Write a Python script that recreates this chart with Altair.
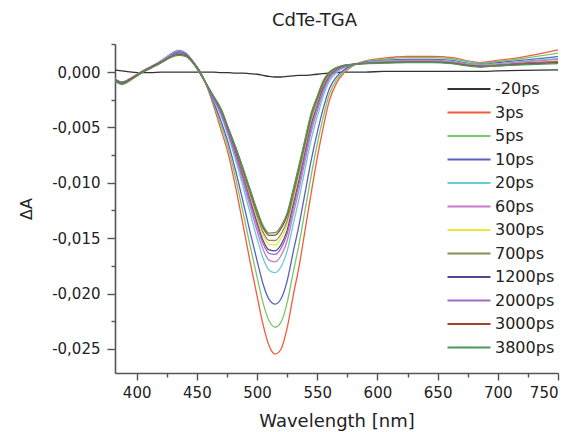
import altair as alt
import pandas as pd

# wavelength grid (nm)
WL = [382, 388, 396, 404, 412, 420, 428, 435, 441, 446,
      452, 458, 464, 470, 476, 482, 488, 494, 500, 505, 510, 515, 520, 525,
      530, 535, 540, 545, 550, 555, 560, 566, 572, 580,
      590, 605, 625, 645, 662, 675, 685, 700, 720, 750]

SERIES = ["-20ps", "3ps", "5ps", "10ps", "20ps", "60ps", "300ps", "700ps",
          "1200ps", "2000ps", "3000ps", "3800ps"]
COLORS = ["#333333", "#f25c3a", "#7cc66a", "#5a5fc0", "#66ccd9", "#c879c8",
          "#ece83c", "#8c8c55", "#4a4a90", "#a56bbf", "#a0442a", "#4b9a5a"]

# Delta A in units of 1e-3
dA_m20 = [0.2, 0.1, 0.0, -0.05, -0.05, 0.0, 0.0, 0.0, 0.0, 0.0,
          0.0, 0.0, 0.0, -0.05, -0.05, -0.1, -0.1, -0.15, -0.2, -0.3, -0.4, -0.45, -0.45, -0.4,
          -0.35, -0.3, -0.3, -0.25, -0.2, -0.15, -0.1, -0.05, 0.0, 0.0,
          0.0, 0.05, 0.05, 0.05, 0.05, 0.05, 0.05, 0.1, 0.15, 0.2]
dA_3 = [-0.75, -1.05, -0.6, 0.0, 0.45, 0.95, 1.45, 1.7, 1.5, 0.95,
        0.2, -1.2, -3.1, -5.2, -7.36, -10.3, -13.6, -17.0, -20.2, -22.8, -24.7, -25.45, -25.0, -23.1,
        -20.2, -17.5, -14.2, -10.9, -7.74, -5.0, -2.6, -1.0, -0.1, 0.6,
        1.0, 1.25, 1.4, 1.4, 1.3, 1.0, 0.85, 1.05, 1.35, 2.0]
dA_5 = [-0.8, -1.1, -0.65, -0.05, 0.4, 0.9, 1.5, 1.8, 1.6, 1.05,
        0.16, -1.18, -2.9, -4.78, -6.84, -9.51, -12.49, -15.57, -18.5, -20.84, -22.46, -23.04, -22.56, -20.82,
        -18.09, -15.49, -12.4, -9.32, -6.52, -4.08, -2.03, -0.69, 0.05, 0.62,
        0.95, 1.15, 1.3, 1.3, 1.2, 0.95, 0.8, 0.95, 1.2, 1.7]
dA_10 = [-0.7, -1.0, -0.55, 0.05, 0.5, 1.0, 1.6, 1.95, 1.7, 1.1,
         0.12, -1.16, -2.73, -4.42, -6.39, -8.82, -11.53, -14.34, -17.02, -19.14, -20.53, -20.96, -20.45, -18.85,
         -16.26, -13.75, -10.84, -7.95, -5.47, -3.28, -1.53, -0.43, 0.19, 0.64,
         0.9, 1.05, 1.15, 1.15, 1.05, 0.8, 0.7, 0.85, 1.05, 1.4]
dA_20 = [-0.7, -0.95, -0.55, 0.05, 0.5, 1.0, 1.55, 1.9, 1.65, 1.05,
         0.07, -1.13, -2.5, -3.93, -5.78, -7.89, -10.22, -12.65, -15.01, -16.82, -17.89, -18.11, -17.56, -16.16,
         -13.77, -11.37, -8.71, -6.08, -4.03, -2.19, -0.86, -0.06, 0.37, 0.67,
         0.85, 1.0, 1.05, 1.05, 0.95, 0.75, 0.65, 0.75, 0.95, 1.2]
dA_60 = [-0.65, -0.95, -0.5, 0.05, 0.5, 0.95, 1.5, 1.85, 1.6, 1.0,
         0.05, -1.12, -2.42, -3.76, -5.57, -7.56, -9.76, -12.06, -14.31, -16.01, -16.98, -17.13, -16.56, -15.23,
         -12.9, -10.55, -7.97, -5.43, -3.53, -1.81, -0.62, 0.06, 0.43, 0.68,
         0.85, 0.95, 1.0, 1.0, 0.9, 0.7, 0.6, 0.7, 0.9, 1.15]
dA_300 = [-0.6, -0.9, -0.5, 0.05, 0.45, 0.9, 1.45, 1.75, 1.55, 1.0,
          0.02, -1.11, -2.29, -3.49, -5.24, -7.06, -9.06, -11.15, -13.23, -14.76, -15.56, -15.6, -15.01, -13.78,
          -11.56, -9.27, -6.82, -4.42, -2.75, -1.22, -0.26, 0.26, 0.53, 0.69,
          0.8, 0.9, 0.95, 0.95, 0.85, 0.65, 0.55, 0.65, 0.8, 1.0]
dA_700 = [-0.6, -0.9, -0.5, 0.0, 0.45, 0.9, 1.4, 1.7, 1.5, 0.95,
          0.01, -1.11, -2.26, -3.42, -5.15, -6.93, -8.88, -10.92, -12.95, -14.45, -15.2, -15.21, -14.62, -13.41,
          -11.22, -8.94, -6.53, -4.17, -2.56, -1.07, -0.17, 0.31, 0.55, 0.69,
          0.8, 0.9, 0.95, 0.95, 0.85, 0.65, 0.55, 0.65, 0.8, 0.95]
dA_1200 = [-0.65, -0.95, -0.55, 0.0, 0.45, 0.9, 1.45, 1.8, 1.6, 1.0,
           0.03, -1.12, -2.34, -3.59, -5.35, -7.24, -9.31, -11.48, -13.61, -15.21, -16.06, -16.14, -15.57, -14.29,
           -12.04, -9.72, -7.23, -4.78, -3.03, -1.43, -0.39, 0.19, 0.49, 0.68,
           0.8, 0.85, 0.9, 0.9, 0.8, 0.6, 0.5, 0.6, 0.75, 0.9]
dA_2000 = [-0.7, -1.0, -0.55, 0.0, 0.45, 0.9, 1.45, 1.75, 1.55, 1.0,
           0.04, -1.12, -2.36, -3.64, -5.42, -7.35, -9.46, -11.67, -13.85, -15.48, -16.37, -16.47, -15.9, -14.6,
           -12.33, -10.0, -7.48, -5.0, -3.2, -1.56, -0.47, 0.15, 0.47, 0.68,
           0.8, 0.9, 0.95, 0.95, 0.85, 0.65, 0.55, 0.6, 0.75, 0.9]
dA_3000 = [-0.75, -1.05, -0.6, -0.05, 0.4, 0.85, 1.35, 1.6, 1.45, 0.95,
           0.0, -1.1, -2.22, -3.34, -5.05, -6.77, -8.65, -10.63, -12.61, -14.05, -14.74, -14.72, -14.12, -12.95,
           -10.79, -8.53, -6.16, -3.84, -2.31, -0.88, -0.05, 0.37, 0.59, 0.7,
           0.75, 0.85, 0.9, 0.9, 0.8, 0.6, 0.5, 0.55, 0.7, 0.85]
dA_3800 = [-0.8, -1.1, -0.65, -0.1, 0.35, 0.8, 1.3, 1.5, 1.4, 0.9,
           0.0, -1.1, -2.2, -3.3, -5.0, -6.7, -8.55, -10.5, -12.45, -13.87, -14.54, -14.5, -13.9, -12.74,
           -10.6, -8.35, -6.0, -3.7, -2.2, -0.8, 0.0, 0.4, 0.6, 0.7,
           0.75, 0.8, 0.85, 0.85, 0.75, 0.55, 0.45, 0.55, 0.65, 0.75]

ALL = [dA_m20, dA_3, dA_5, dA_10, dA_20, dA_60, dA_300, dA_700,
       dA_1200, dA_2000, dA_3000, dA_3800]

X_MAJOR = [400, 450, 500, 550, 600, 650, 700, 750]
X_MINOR = [425, 475, 525, 575, 625, 675, 725]
Y_MAJOR = [0, -5, -10, -15, -20, -25]
Y_MINOR = [2.5, -2.5, -7.5, -12.5, -17.5, -22.5]

rows = []
for name, vals in zip(SERIES, ALL):
    for i, (w, v) in enumerate(zip(WL, vals)):
        rows.append({"wl": w, "dA": v, "series": name, "order": i})
df = pd.DataFrame(rows)

FONT = "DejaVu Sans"
AX = "#555555"
xs = alt.Scale(domain=[382, 750], nice=False, zero=False)
ys = alt.Scale(domain=[-27.17, 2.53], nice=False, zero=False)

ylab = "replace(replace(format(datum.value/1000, '.3f'), '.', ','), '\u2212', '-')"

lines = alt.Chart(df).mark_line(interpolate="monotone", strokeWidth=1.3, clip=True).encode(
    x=alt.X("wl:Q", scale=xs, axis=alt.Axis(
        values=X_MAJOR, orient="bottom", title="Wavelength [nm]", grid=False,
        tickSize=7, tickColor=AX, domainColor=AX, domainWidth=1.6, tickWidth=1.4,
        labelFont=FONT, labelFontSize=15, labelColor="#222", labelPadding=5,
        titleFont=FONT, titleFontSize=18, titleFontWeight="normal", titleColor="#222",
        titlePadding=12)),
    y=alt.Y("dA:Q", scale=ys, axis=alt.Axis(
        values=Y_MAJOR, orient="left", title="ΔA", grid=False,
        tickSize=8, tickColor=AX, domainColor=AX, domainWidth=1.6, tickWidth=1.4,
        labelExpr=ylab, labelFont=FONT, labelFontSize=15, labelColor="#222", labelPadding=7,
        titleFont=FONT, titleFontSize=16, titleFontWeight="normal", titleColor="#222",
        titlePadding=17)),
    color=alt.Color("series:N", sort=SERIES,
                    scale=alt.Scale(domain=SERIES, range=COLORS),
                    legend=alt.Legend(orient="none", legendX=342, legendY=33, title=None,
                                      symbolType="M-2,0H2", symbolSize=462, symbolStrokeWidth=2,
                                      labelFont=FONT, labelFontSize=16, labelColor="#222",
                                      labelOffset=14, padding=0, rowPadding=3.5)),
    order="order:Q",
)

minor = alt.Chart(df).mark_point(opacity=0, size=1).encode(
    x=alt.X("wl:Q", scale=xs, axis=alt.Axis(
        values=X_MINOR, orient="bottom", title=None, labels=False, domain=False,
        grid=False, tickSize=4, tickColor=AX, tickWidth=1.4)),
    y=alt.Y("dA:Q", scale=ys, axis=alt.Axis(
        values=Y_MINOR, orient="left", title=None, labels=False, domain=False,
        grid=False, tickSize=4, tickColor=AX, tickWidth=1.4)),
)

chart = alt.layer(lines, minor).resolve_axis(x="independent", y="independent").properties(
    width=443, height=329,
    autosize=alt.AutoSizeParams(type="none"),
    padding={"left": 107, "top": 36, "right": 9, "bottom": 59},
    title=alt.TitleParams("CdTe-TGA", font=FONT, fontSize=18, fontWeight="normal",
                          color="#222", offset=13, dx=-22, anchor="middle", frame="group"),
).configure_view(stroke=None)

chart.save("out.html", embed_options={"renderer": "svg", "actions": False})
